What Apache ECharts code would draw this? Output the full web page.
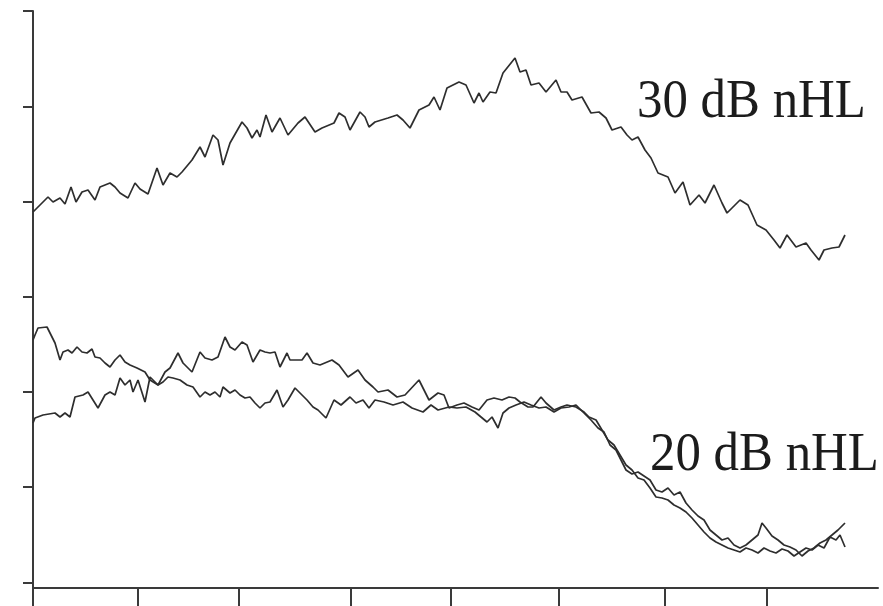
<!DOCTYPE html>
<html>
<head>
<meta charset="utf-8">
<script src="https://cdn.jsdelivr.net/npm/echarts@6/dist/echarts.min.js"></script>
<style>
  html, body { margin: 0; padding: 0; background: #ffffff; }
  #chart { width: 883px; height: 606px; }
</style>
</head>
<body>
<div id="chart"></div>
<script>
// Averaged evoked responses: sample index (time) and amplitude (ADC counts)

// 30 dB nHL response
const t30 = [0,4,15,20,27,32,38,43,49,55,62,67,77,82,87,95,102,107,115,124,130,137,144,149,159,167,172,180,185,190,197,209,214,219,224,227,233,239,247,255,265,
  272,282,289,301,306,312,317,327,332,336,342,355,364,370,377,386,396,401,407,414,426,433,441,446,450,457,463,470,482,487,493,498,506,513,523,528,534,539,549,558,566,573,579,588,594,599,605,612,618,625,635,642,650,657,666,672,681,689,694,707,715,724,733,741,747,754,763,773,778,786,791,799,806,812];
const v30 = [371,375,386,381,385,379,396,381,391,393,383,396,400,396,390,385,400,394,389,415,398,410,406,411,423,436,426,448,443,418,440,461,455,445,453,446,468,451,465,448,460,
  466,451,455,460,470,466,453,471,466,456,461,465,468,463,455,473,478,486,473,495,501,498,480,490,481,491,490,510,525,511,513,498,500,491,503,491,491,483,486,470,471,465,453,456,448,443,446,433,425,410,406,390,401,378,388,380,398,380,370,383,378,358,353,343,335,348,336,340,333,323,333,335,336,348];

// 20 dB nHL response, first run
const t20a = [0,2,5,14,17,22,27,30,35,39,44,49,54,59,62,67,72,77,82,87,92,97,104,112,117,125,130,135,140,147,154,160,167,172,177,182,187,190,197,202,207,212,217,222,227,232,237,244,250,255,262,269,274,280,285,
  293,301,308,317,323,330,336,342,351,360,370,379,390,398,405,416,424,433,442,448,454,459,465,470,476,483,491,498,506,513,521,528,536,543,551,558,
  565,571,577,583,588,593,599,605,611,617,623,629,635,641,647,653,659,665,671,677,683,689,695,701,707,713,719,725,729,733,739,745,751,757,763,769,775,781,787,793,799,805,812];
const v20a = [243,248,255,256,250,240,223,231,233,230,236,231,230,234,226,225,220,216,223,228,221,218,215,211,203,198,201,206,205,203,198,196,186,191,188,191,186,196,190,193,188,185,186,180,175,180,181,193,176,183,195,188,183,176,173,
  165,183,178,186,180,183,175,183,181,178,181,175,171,178,173,176,175,176,171,166,161,166,155,170,175,178,181,178,175,176,171,175,176,178,170,163,
  155,151,138,133,123,113,109,111,107,103,93,91,95,88,91,80,73,67,63,53,48,43,45,38,35,38,43,48,60,55,47,43,38,36,33,27,32,35,40,43,48,53,60];

// 20 dB nHL response, second run
const t20b = [0,2,10,22,27,32,37,42,50,55,60,65,72,77,82,87,92,97,100,105,112,117,125,132,137,145,150,159,167,172,179,185,192,197,202,209,214,220,227,232,237,242,247,254,257,264,269,274,280,287,
  299,306,315,325,332,340,345,355,364,372,386,396,405,411,416,424,431,439,446,454,461,469,476,482,487,495,500,508,513,521,528,534,543,551,556,
  563,569,575,581,587,593,599,605,611,617,623,629,635,641,647,653,659,665,671,677,683,689,695,701,707,713,719,725,731,737,743,749,755,761,767,773,779,785,791,797,803,807,812];
const v20b = [160,165,168,170,166,170,166,186,188,191,183,175,188,191,188,205,198,203,191,203,181,206,198,211,215,230,220,211,231,225,223,226,246,236,233,241,238,221,233,231,230,231,216,230,223,223,223,230,220,218,
  223,218,206,213,203,196,191,193,186,188,203,183,190,188,175,178,180,176,173,183,185,183,186,185,181,176,176,186,180,173,176,178,176,171,166,
  163,153,143,138,128,118,113,105,103,95,86,85,83,78,75,71,65,58,51,45,41,38,35,33,31,35,33,30,35,32,30,34,32,27,31,35,33,38,35,46,43,48,36];

// Tick positions along each axis
const xTicks = [0, 105, 206, 318, 418, 526, 632, 734];
const yTicks = [0, 96, 191, 286, 381, 476, 572];

// Stimulus level captions
const levelNames = ['30 dB nHL', '20 dB nHL'];

function pairs(t, v) {
  return t.map((x, i) => [x, v[i]]);
}

const axisColor = '#3a3a3a';
const traceColor = '#2e2e2e';

const chart = echarts.init(document.getElementById('chart'), null, { renderer: 'canvas' });

function trace(name, t, v) {
  return {
    name: name,
    type: 'line',
    data: pairs(t, v),
    showSymbol: false,
    symbol: 'none',
    smooth: false,
    lineStyle: { color: traceColor, width: 1.7 },
    emphasis: { disabled: true },
    silent: true
  };
}

chart.setOption({
  animation: false,
  backgroundColor: '#ffffff',
  grid: { left: 33, right: 5, top: 11, bottom: 18, containLabel: false, outerBoundsMode: 'none' },
  xAxis: {
    type: 'value',
    min: 0,
    max: 845,
    axisLine: { show: true, onZero: false, lineStyle: { color: axisColor, width: 2 } },
    axisTick: { show: true, inside: false, length: 18, customValues: xTicks, lineStyle: { color: axisColor, width: 2 } },
    axisLabel: { show: false, customValues: xTicks },
    splitLine: { show: false }
  },
  yAxis: {
    type: 'value',
    min: -5,
    max: 572,
    axisLine: { show: true, onZero: false, lineStyle: { color: axisColor, width: 2 } },
    axisTick: { show: true, inside: false, length: 10, customValues: yTicks, lineStyle: { color: axisColor, width: 2 } },
    axisLabel: { show: false, customValues: yTicks },
    splitLine: { show: false }
  },
  series: [
    trace('30 dB nHL', t30, v30),
    trace('20 dB nHL (1)', t20a, v20a),
    trace('20 dB nHL (2)', t20b, v20b)
  ],
  graphic: [
    {
      type: 'text', x: 637, y: 75, scaleX: 0.925, silent: true,
      style: { text: levelNames[0], font: '55px "Liberation Serif", "Times New Roman", serif', fill: '#1c1c1c', verticalAlign: 'top' }
    },
    {
      type: 'text', x: 650, y: 428, scaleX: 0.925, silent: true,
      style: { text: levelNames[1], font: '55px "Liberation Serif", "Times New Roman", serif', fill: '#1c1c1c', verticalAlign: 'top' }
    }
  ]
});
</script>
</body>
</html>
